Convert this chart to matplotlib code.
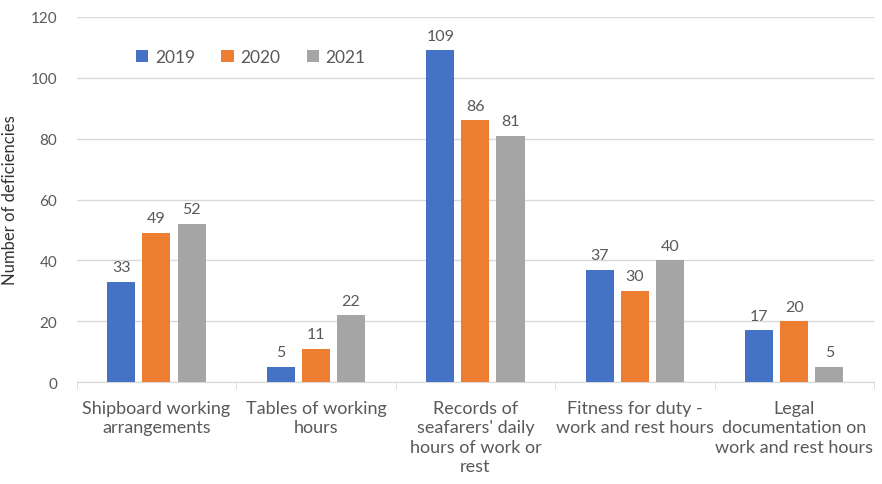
import numpy as np
import matplotlib.pyplot as plt

categories = ["Shipboard working\narrangements", "Tables of working\nhours",
              "Records of\nseafarers' daily\nhours of work or\nrest",
              "Fitness for duty -\nwork and rest hours",
              "Legal\ndocumentation on\nwork and rest hours"]
years = ["2019", "2020", "2021"]
v2019 = [33, 5, 109, 37, 17]
v2020 = [49, 11, 86, 30, 20]
v2021 = [52, 22, 81, 40, 5]
colors = ["#4472C4", "#ED7D31", "#A5A5A5"]

plt.rcParams['font.family'] = ['Lato', 'DejaVu Sans']
txt = "#595959"

fig = plt.figure(figsize=(8.82, 4.85), dpi=100)
ax = fig.add_axes([0.087, 0.21, 0.904, 0.753])

x = np.arange(len(categories))
w = 0.176
step = 0.22
for i, (vals, yr) in enumerate(zip([v2019, v2020, v2021], years)):
    pos = x + (i - 1) * step
    bars = ax.bar(pos, vals, w, color=colors[i], label=yr, zorder=3)
    for b, v in zip(bars, vals):
        ax.text(b.get_x() + b.get_width() / 2, v + 2.5, str(v), ha='center',
                va='bottom', fontsize=11.5, color=txt)

ax.set_xlim(-0.5, len(categories) - 0.5)
ax.set_ylim(0, 120)
ax.set_yticks(range(0, 121, 20))
ax.yaxis.grid(True, color="#D9D9D9", linewidth=1, zorder=0)
ax.set_xticks(np.arange(-0.5, len(categories), 1), minor=True)
ax.set_xticks(x)
ax.set_xticklabels(categories, fontsize=13, color=txt, linespacing=1.25)
ax.tick_params(axis='x', which='major', length=0, pad=13)
ax.tick_params(axis='x', which='minor', length=5, color="#D9D9D9")
ax.tick_params(axis='y', length=0, labelsize=11, labelcolor=txt, pad=14)
for s in ['top', 'right', 'left']:
    ax.spines[s].set_visible(False)
ax.spines['bottom'].set_color("#D9D9D9")
ax.set_ylabel("Number of deficiencies", fontsize=12, color="#333333")
ax.yaxis.set_label_coords(-0.074, 0.5)

ax.legend(loc='upper left', bbox_to_anchor=(0.055, 0.955), ncol=3, frameon=False,
          fontsize=12.5, handlelength=0.7, handleheight=0.7, columnspacing=1.5,
          handletextpad=0.4, labelcolor=txt)

fig.savefig("out.png", dpi=100)
